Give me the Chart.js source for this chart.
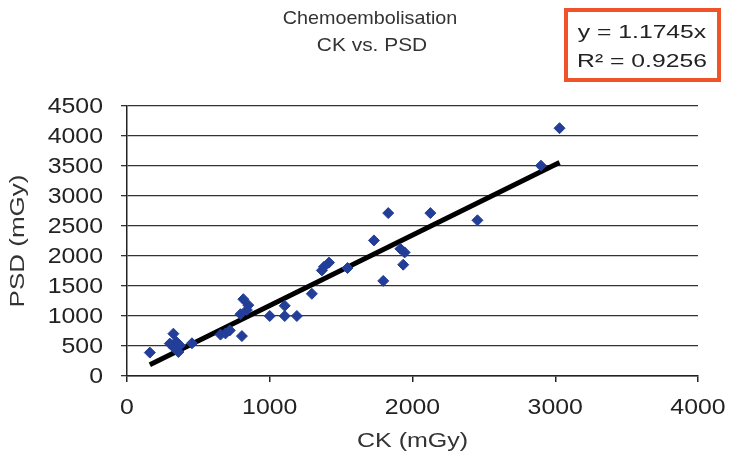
<!DOCTYPE html>
<html>
<head>
<meta charset="utf-8">
<script src="https://cdn.jsdelivr.net/npm/chart.js@4/dist/chart.umd.min.js"></script>
<style>
  html, body { margin: 0; padding: 0; background: #fff; }
  #wrap { width: 729px; height: 462px; }
</style>
</head>
<body>
<div id="wrap"><canvas id="chart" width="729" height="462"></canvas></div>
<script>
// values
var ck  = [160, 325, 300, 345, 360, 370, 330, 455, 655, 690, 720, 805, 795, 815, 850, 840,
           1000, 1105, 1105, 1190, 1295, 1365, 1380, 1415, 1545, 1730, 1795, 1830, 1915, 1945,
           1935, 2125, 2455, 2900, 3030];
var psd = [390, 705, 540, 570, 400, 510, 470, 545, 690, 710, 760, 665, 1030, 1280, 1180, 1100,
           1000, 1000, 1170, 1000, 1370, 1760, 1820, 1890, 1800, 2260, 1585, 2715, 2120, 2060,
           1855, 2715, 2595, 3505, 4130];
var trendX = [160, 3030];
var slope = 1.1745;
var rSquared = 0.9256;
var titleLines = ["Chemoembolisation", "CK vs. PSD"];
var xTitle = "CK (mGy)";
var yTitle = "PSD (mGy)";

var points = ck.map(function (v, i) { return { x: v, y: psd[i] }; });
var trend = trendX.map(function (v) { return { x: v, y: v * slope }; });

var FONT = "'Liberation Sans', Arial, sans-serif";

// the source picture is a bit stretched sideways, so text is drawn widened
function wideText(c, txt, x, y, sx, align) {
    c.save();
    c.translate(x, y);
    c.scale(sx, 1);
    c.textAlign = align || "center";
    c.fillText(txt, 0, 0);
    c.restore();
}

// tick labels, titles and the equation box
var decor = {
    id: "decor",
    afterDraw: function (chart) {
        var c = chart.ctx;
        var a = chart.chartArea;
        var xs = chart.scales.x, ys = chart.scales.y;
        c.save();
        c.textBaseline = "middle";
        c.fillStyle = "#222";
        c.font = "22px " + FONT;
        ys.ticks.forEach(function (t) {
            wideText(c, String(t.value), 103, ys.getPixelForValue(t.value) + 1, 1.13, "right");
        });
        xs.ticks.forEach(function (t) {
            wideText(c, String(t.value), xs.getPixelForValue(t.value), 408, 1.13, "center");
        });

        c.fillStyle = "#333";
        c.font = "19px " + FONT;
        wideText(c, titleLines[0], 370, 19, 1.04);
        wideText(c, titleLines[1], 372, 46, 1.1);

        c.font = "20px " + FONT;
        wideText(c, xTitle, (a.left + a.right) / 2, 441, 1.25);
        c.save();
        c.translate(18, (a.top + a.bottom) / 2);
        c.rotate(-Math.PI / 2);
        wideText(c, yTitle, 0, 0, 1.3);
        c.restore();

        c.strokeStyle = "#f0522a";
        c.lineWidth = 4;
        c.strokeRect(566, 10, 153, 70);
        c.fillStyle = "#222";
        c.font = "19px " + FONT;
        wideText(c, "y = " + slope + "x", 642, 33, 1.3);
        wideText(c, "R\u00b2 = " + rSquared, 642, 62, 1.3);
        c.restore();
    }
};

new Chart(document.getElementById("chart"), {
    type: "scatter",
    data: {
        datasets: [{
            label: "data",
            data: points,
            pointStyle: "rectRot",
            pointRadius: 5.5,
            backgroundColor: "#233e98",
            borderColor: "#233e98",
            borderWidth: 1
        }, {
            label: "trend",
            type: "line",
            data: trend,
            borderColor: "#000",
            borderWidth: 5,
            pointRadius: 0,
            fill: false
        }]
    },
    options: {
        responsive: false,
        animation: false,
        devicePixelRatio: 1,
        layout: { padding: { top: 106, right: 31, left: 0, bottom: 0 } },
        plugins: {
            legend: { display: false },
            tooltip: { enabled: false },
            title: { display: false }
        },
        scales: {
            x: {
                type: "linear",
                min: 0, max: 4000,
                ticks: { stepSize: 1000, display: false },
                grid: { drawOnChartArea: false, drawTicks: true, tickLength: 6, color: "#222", lineWidth: 1.5 },
                border: { display: true, color: "#222", width: 1.5 },
                afterFit: function (s) { s.height = 86; }
            },
            y: {
                min: 0, max: 4500,
                ticks: { stepSize: 500, display: false },
                grid: { color: "#333", lineWidth: 1.3, drawTicks: true, tickLength: 6 },
                border: { display: true, color: "#222", width: 1.5 },
                afterFit: function (s) { s.width = 127; }
            }
        }
    },
    plugins: [decor]
});
</script>
</body>
</html>
